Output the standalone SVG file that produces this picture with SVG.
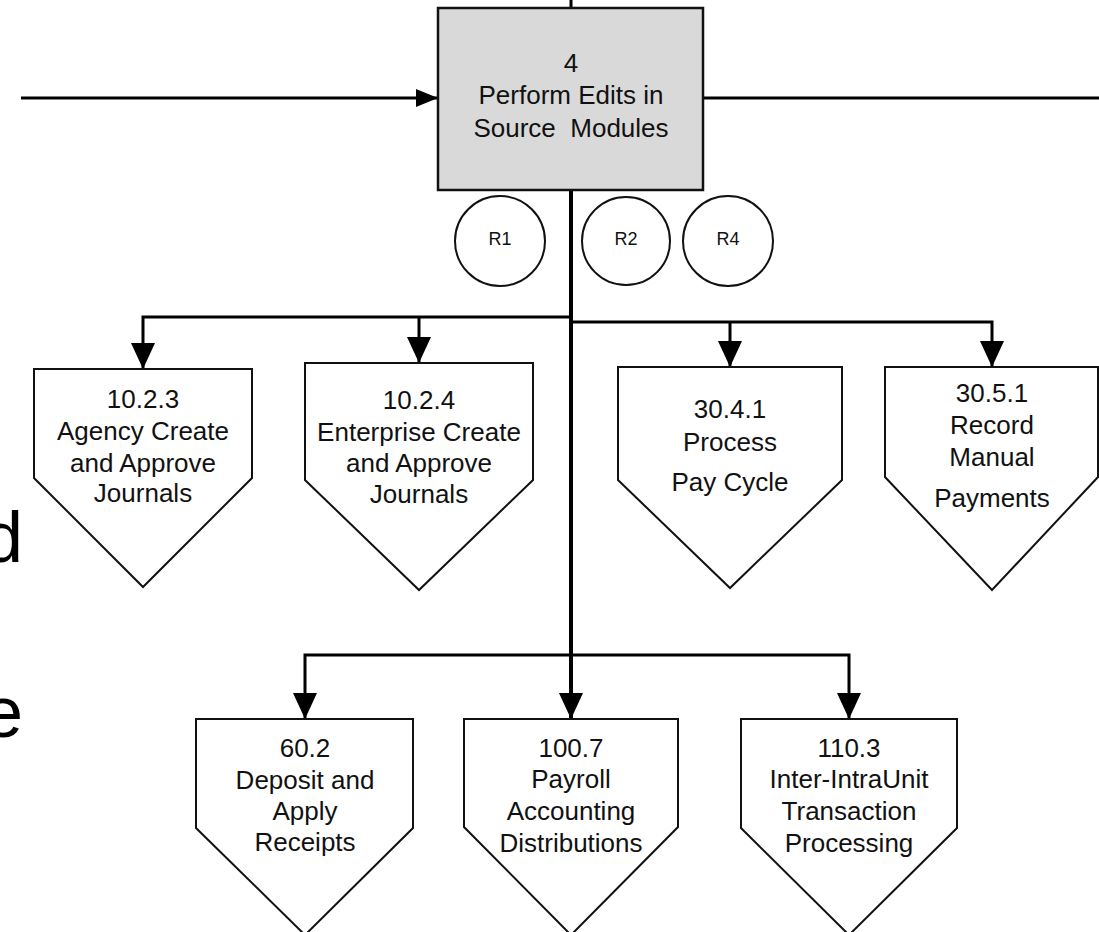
<svg xmlns="http://www.w3.org/2000/svg" width="1099" height="932" viewBox="0 0 1099 932">
<style>
text{font-family:"Liberation Sans",Arial,sans-serif;fill:#111;text-anchor:middle}
.t{font-size:26px}
.r{font-size:18px}
.big{font-size:72px;fill:#000;text-anchor:end}
.shape{fill:#fff;stroke:#111;stroke-width:2}
.box{fill:#d9d9d9;stroke:#111;stroke-width:2.5}
.c{fill:none;stroke:#000;stroke-width:3}
.m{fill:none;stroke:#000;stroke-width:4}
.circ{fill:#fff;stroke:#111;stroke-width:2}
</style>
<defs>
<marker id="ah" markerUnits="userSpaceOnUse" markerWidth="26" markerHeight="24" refX="26" refY="12" orient="auto">
<path d="M0,0 L26,12 L0,24 z" fill="#000"/>
</marker>
<marker id="ahs" markerUnits="userSpaceOnUse" markerWidth="22" markerHeight="20" refX="22" refY="10" orient="auto">
<path d="M0,1 L22,10 L0,19 z" fill="#000"/>
</marker>
</defs>
<rect width="1099" height="932" fill="#fff"/>
<text class="big" x="23" y="562">d</text>
<text class="big" x="23" y="737">e</text>
<g id="connectors">
<line class="c" x1="21" y1="98" x2="438" y2="98" marker-end="url(#ahs)"/>
<line class="c" x1="703" y1="98" x2="1099" y2="98"/>
<line class="c" x1="571" y1="0" x2="571" y2="8"/>
<path class="c" d="M571,317 H143 V369" marker-end="url(#ah)"/>
<path class="c" d="M419,317 V363" marker-end="url(#ah)"/>
<path class="c" d="M571,322 H992 V367" marker-end="url(#ah)"/>
<path class="c" d="M730,322 V367" marker-end="url(#ah)"/>
<path class="c" d="M571,655 H305 V719" marker-end="url(#ah)"/>
<path class="c" d="M571,655 H849 V719" marker-end="url(#ah)"/>
<line class="m" x1="571" y1="190" x2="571" y2="719" marker-end="url(#ah)"/>
</g>
<g id="n4">
<rect class="box" x="438" y="8" width="265" height="182"/>
<text class="t" x="571" y="72">4</text>
<text class="t" x="571" y="104">Perform Edits in</text>
<text class="t" x="571" y="137" xml:space="preserve">Source  Modules</text>
</g>
<g id="r1"><circle class="circ" cx="500" cy="241" r="45"/><text class="r" x="500" y="245">R1</text></g>
<g id="r2"><circle class="circ" cx="626" cy="241" r="44"/><text class="r" x="626" y="245">R2</text></g>
<g id="r4"><circle class="circ" cx="728" cy="241" r="45"/><text class="r" x="728" y="245">R4</text></g>
<g id="n1023">
<polygon class="shape" points="34,369 252,369 252,478 143,587 34,478"/>
<text class="t" x="143" y="408">10.2.3</text>
<text class="t" x="143" y="440">Agency Create</text>
<text class="t" x="143" y="472">and Approve</text>
<text class="t" x="143" y="502">Journals</text>
</g>
<g id="n1024">
<polygon class="shape" points="305,363 533,363 533,480 419,590 305,480"/>
<text class="t" x="419" y="409">10.2.4</text>
<text class="t" x="419" y="441">Enterprise Create</text>
<text class="t" x="419" y="472">and Approve</text>
<text class="t" x="419" y="503">Journals</text>
</g>
<g id="n3041">
<polygon class="shape" points="618,367 842,367 842,480 730,588 618,480"/>
<text class="t" x="730" y="418">30.4.1</text>
<text class="t" x="730" y="451">Process</text>
<text class="t" x="730" y="491">Pay Cycle</text>
</g>
<g id="n3051">
<polygon class="shape" points="885,367 1098,367 1098,477 992,590 885,477"/>
<text class="t" x="992" y="402">30.5.1</text>
<text class="t" x="992" y="434">Record</text>
<text class="t" x="992" y="466">Manual</text>
<text class="t" x="992" y="507">Payments</text>
</g>
<g id="n602">
<polygon class="shape" points="196,719 413,719 413,828 305,935 196,828"/>
<text class="t" x="305" y="757">60.2</text>
<text class="t" x="305" y="789">Deposit and</text>
<text class="t" x="305" y="820">Apply</text>
<text class="t" x="305" y="851">Receipts</text>
</g>
<g id="n1007">
<polygon class="shape" points="464,719 678,719 678,827 571,935 464,827"/>
<text class="t" x="571" y="757">100.7</text>
<text class="t" x="571" y="788">Payroll</text>
<text class="t" x="571" y="820">Accounting</text>
<text class="t" x="571" y="852">Distributions</text>
</g>
<g id="n1103">
<polygon class="shape" points="741,719 957,719 957,828 849,935 741,828"/>
<text class="t" x="849" y="757">110.3</text>
<text class="t" x="849" y="788">Inter-IntraUnit</text>
<text class="t" x="849" y="820">Transaction</text>
<text class="t" x="849" y="852">Processing</text>
</g>
</svg>
